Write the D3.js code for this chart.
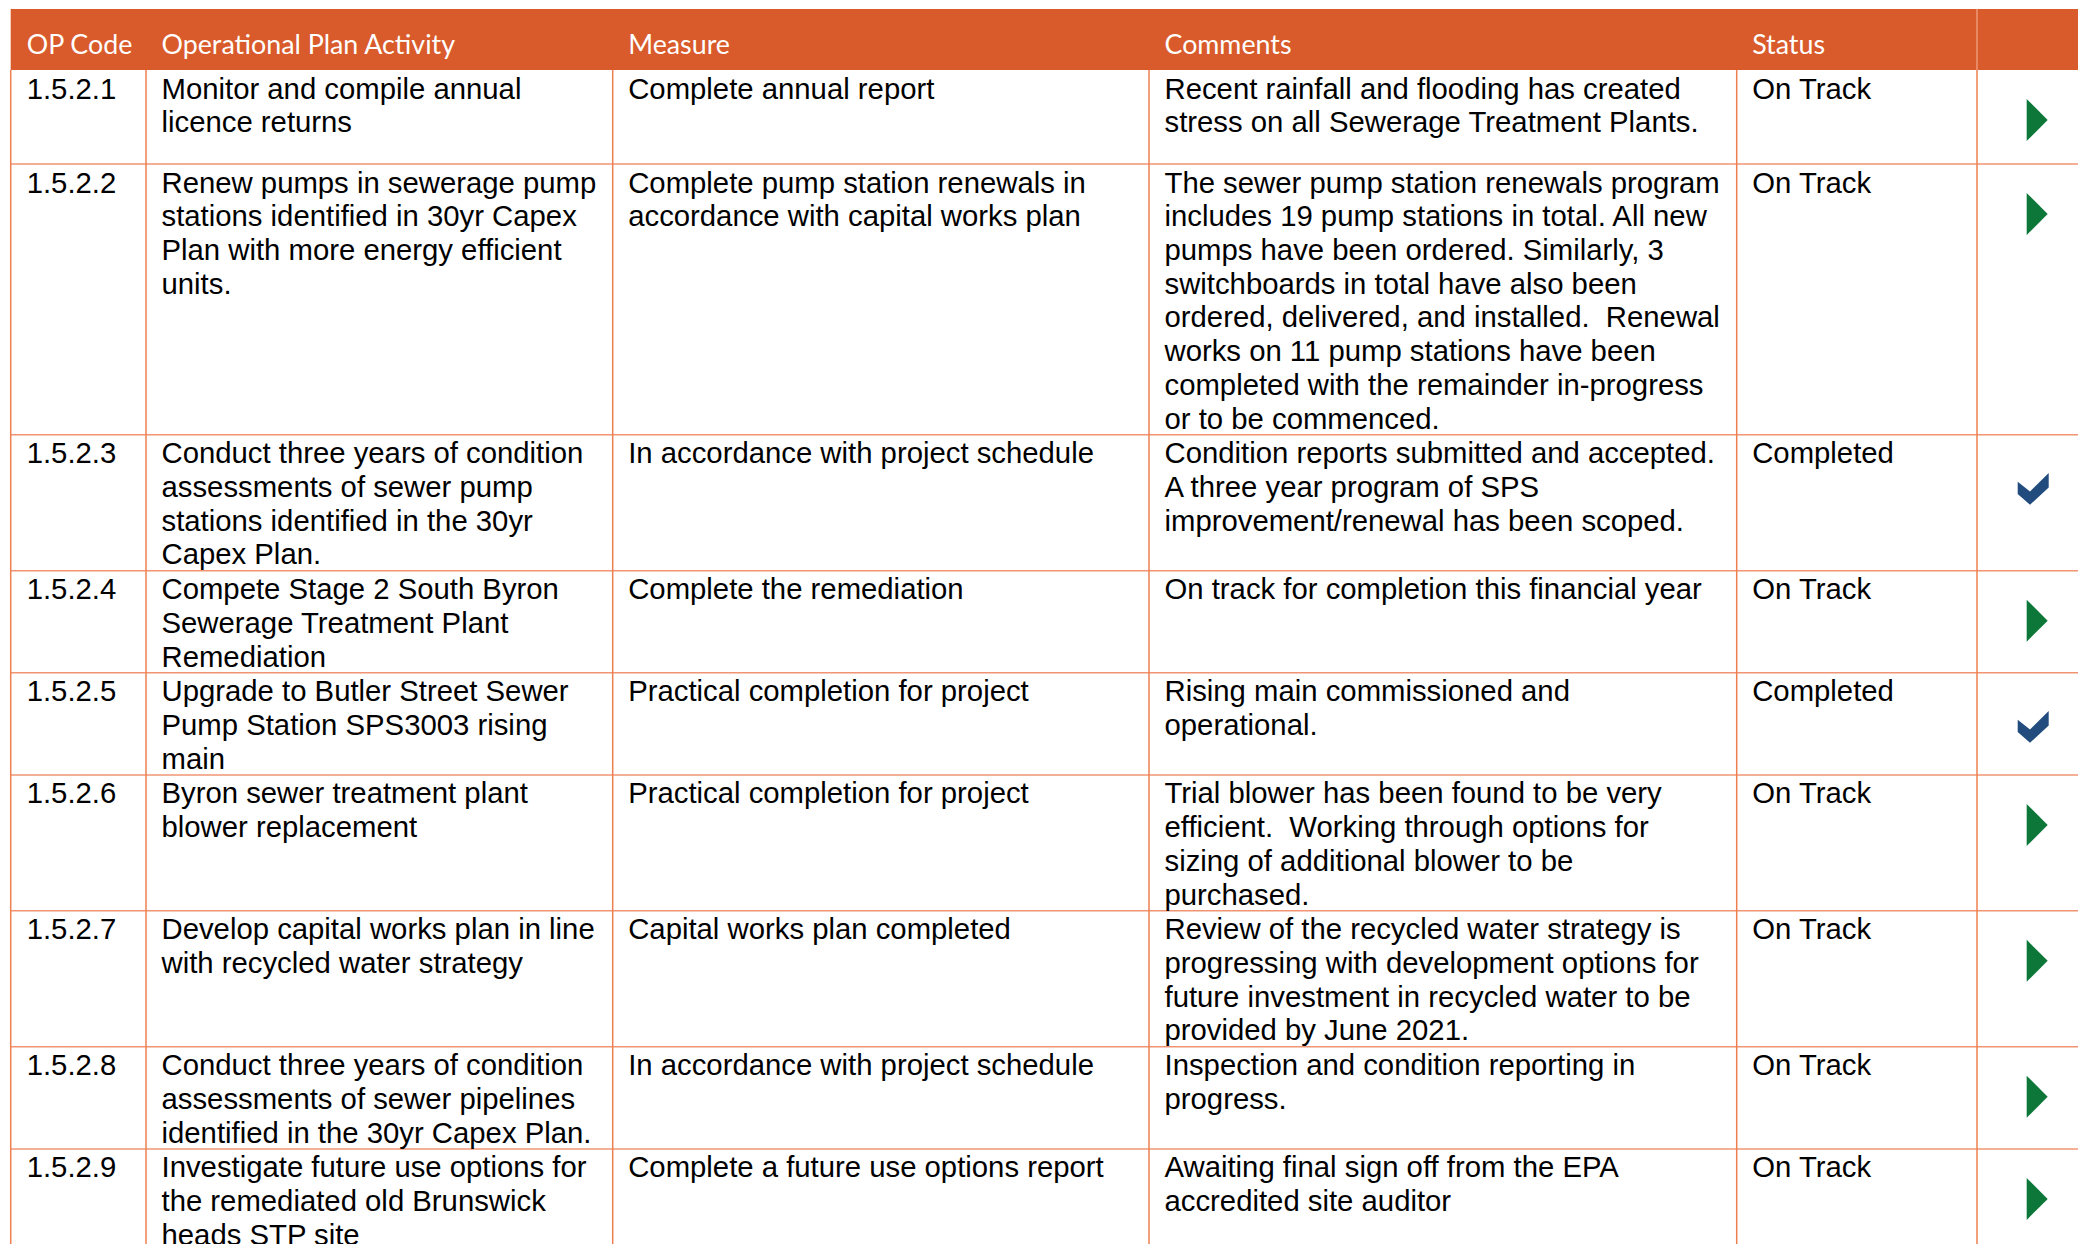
<!DOCTYPE html>
<html>
<head>
<meta charset="utf-8">
<script src="https://cdn.jsdelivr.net/npm/d3@7/dist/d3.min.js"></script>
<style>
  html, body { margin: 0; padding: 0; background: #ffffff; }
  svg { display: block; }
  text { white-space: pre; }
</style>
</head>
<body>
<svg id="chart" width="2078" height="1244"></svg>
<script>
// ---------------- DATA ----------------
const headers = ["OP Code", "Operational Plan Activity", "Measure", "Comments", "Status", ""];

const codes = ["1.5.2.1", "1.5.2.2", "1.5.2.3", "1.5.2.4", "1.5.2.5", "1.5.2.6", "1.5.2.7", "1.5.2.8", "1.5.2.9"];

const activities = [
  ["Monitor and compile annual", "licence returns"],
  ["Renew pumps in sewerage pump", "stations identified in 30yr Capex", "Plan with more energy efficient", "units."],
  ["Conduct three years of condition", "assessments of sewer pump", "stations identified in the 30yr", "Capex Plan."],
  ["Compete Stage 2 South Byron", "Sewerage Treatment Plant", "Remediation"],
  ["Upgrade to Butler Street Sewer", "Pump Station SPS3003 rising", "main"],
  ["Byron sewer treatment plant", "blower replacement"],
  ["Develop capital works plan in line", "with recycled water strategy"],
  ["Conduct three years of condition", "assessments of sewer pipelines", "identified in the 30yr Capex Plan."],
  ["Investigate future use options for", "the remediated old Brunswick", "heads STP site"]
];

const measures = [
  ["Complete annual report"],
  ["Complete pump station renewals in", "accordance with capital works plan"],
  ["In accordance with project schedule"],
  ["Complete the remediation"],
  ["Practical completion for project"],
  ["Practical completion for project"],
  ["Capital works plan completed"],
  ["In accordance with project schedule"],
  ["Complete a future use options report"]
];

const comments = [
  ["Recent rainfall and flooding has created", "stress on all Sewerage Treatment Plants."],
  ["The sewer pump station renewals program", "includes 19 pump stations in total. All new", "pumps have been ordered. Similarly, 3", "switchboards in total have also been", "ordered, delivered, and installed.  Renewal", "works on 11 pump stations have been", "completed with the remainder in-progress", "or to be commenced."],
  ["Condition reports submitted and accepted.", "A three year program of SPS", "improvement/renewal has been scoped."],
  ["On track for completion this financial year"],
  ["Rising main commissioned and", "operational."],
  ["Trial blower has been found to be very", "efficient.  Working through options for", "sizing of additional blower to be", "purchased."],
  ["Review of the recycled water strategy is", "progressing with development options for", "future investment in recycled water to be", "provided by June 2021."],
  ["Inspection and condition reporting in", "progress."],
  ["Awaiting final sign off from the EPA", "accredited site auditor"]
];

const statuses = ["On Track", "On Track", "Completed", "On Track", "Completed", "On Track", "On Track", "On Track", "On Track"];

// ---------------- LAYOUT / STYLE ----------------
const W = 2078, H = 1244;
const tableLeft = 10.7, headerTop = 9, headerBottom = 70;
const colEdges = [tableLeft, 146, 612.7, 1149, 1736.7, 1977, 2200];
const padX = 15.5;
const lineH = 33.72;
const rowBorder = 1;
const minRowH = 94;
const firstBaseline = 28.5;
const bodyFont = "'Liberation Sans', Arial, sans-serif";
const bodySize = 29.3;
const headFont = "Lato, 'Open Sans', sans-serif";
const headSize = 26.8;
const orange = "#D95A2A";
const gridV = "#EE7F4F";
const gridH = "#F09474";
const green = "#0D773A";
const blue = "#224C7E";

const svg = d3.select("#chart");

// column scale (ordinal -> left edge)
const colKeys = ["code", "activity", "measure", "comments", "status", "icon"];
const xCol = d3.scaleOrdinal().domain(colKeys).range(colEdges.slice(0, 6));

// build rows
const rows = codes.map((c, i) => ({
  code: [c],
  activity: activities[i],
  measure: measures[i],
  comments: comments[i],
  status: [statuses[i]],
  done: statuses[i] === "Completed"
}));
let yAcc = headerBottom;
rows.forEach(r => {
  const n = d3.max(["code", "activity", "measure", "comments", "status"], k => r[k].length);
  r.h = Math.max(minRowH, n * lineH + rowBorder);
  r.y = yAcc;
  yAcc += r.h;
});
const tableBottom = yAcc;

// row position scale (index -> top y)
const yRow = d3.scaleOrdinal().domain(d3.range(rows.length)).range(rows.map(r => r.y));

// header
svg.append("rect")
  .attr("x", tableLeft).attr("y", headerTop)
  .attr("width", W - tableLeft + 10).attr("height", headerBottom - headerTop)
  .attr("fill", orange);

svg.append("line")
  .attr("x1", colEdges[5]).attr("x2", colEdges[5])
  .attr("y1", headerTop).attr("y2", headerBottom)
  .attr("stroke", "#EC9A78").attr("stroke-width", 1.5);

svg.selectAll("text.head")
  .data(headers.slice(0, 5))
  .join("text")
  .attr("class", "head")
  .attr("x", (d, i) => xCol(colKeys[i]) + (i === 0 ? 16 : padX))
  .attr("y", 54)
  .attr("font-family", headFont)
  .attr("font-size", headSize)
  .attr("fill", "#ffffff")
  .text(d => d);

// grid: horizontal lines
svg.selectAll("line.h")
  .data(rows.map(r => r.y + r.h))
  .join("line")
  .attr("class", "h")
  .attr("x1", tableLeft).attr("x2", W + 10)
  .attr("y1", d => d).attr("y2", d => d)
  .attr("stroke", gridH).attr("stroke-width", 1.5);

// grid: vertical lines
svg.selectAll("line.v")
  .data(colEdges.slice(0, 6))
  .join("line")
  .attr("class", "v")
  .attr("x1", d => d).attr("x2", d => d)
  .attr("y1", headerBottom).attr("y2", tableBottom)
  .attr("stroke", gridV).attr("stroke-width", 1.5);

// cell text
const textCols = ["code", "activity", "measure", "comments", "status"];
const rowG = svg.selectAll("g.row")
  .data(rows)
  .join("g")
  .attr("class", "row")
  .attr("transform", (d, i) => `translate(0,${yRow(i)})`);

textCols.forEach((k, ci) => {
  rowG.append("text")
    .attr("font-family", bodyFont)
    .attr("font-size", bodySize)
    .attr("fill", "#000000")
    .each(function(d) {
      const t = d3.select(this);
      d[k].forEach((line, li) => {
        t.append("tspan")
          .attr("x", xCol(k) + (ci === 0 ? 16 : padX))
          .attr("y", firstBaseline + li * lineH)
          .text(line);
      });
    });
});

// status icons
const triL = 2026.7, triR = 2047.7;
rowG.filter(d => !d.done)
  .append("path")
  .attr("d", `M${triL},29 L${triR},50 L${triL},71 Z`)
  .attr("fill", green);

rowG.filter(d => d.done)
  .append("path")
  .attr("d", d3.line()([
    [2017.7, 47], [2030, 56.7], [2048.7, 38.3], [2048.7, 52.7], [2030, 70], [2017.7, 59.3]
  ]) + "Z")
  .attr("fill", blue);
</script>
</body>
</html>
